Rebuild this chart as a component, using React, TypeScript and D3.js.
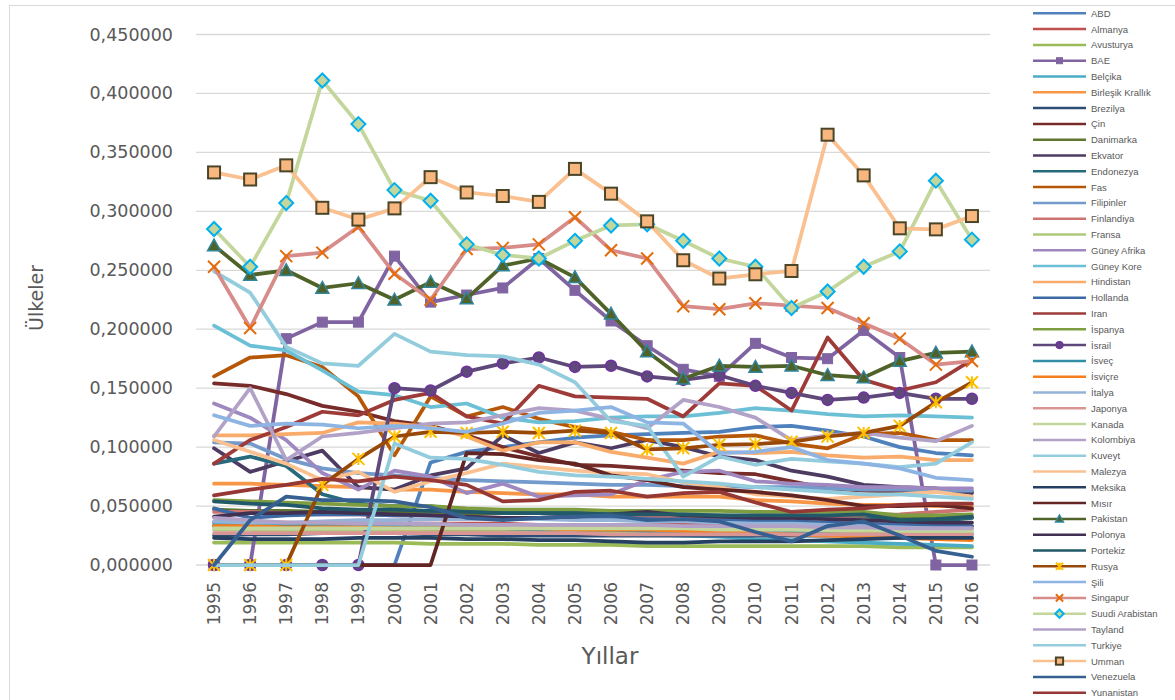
import React from "react";
import * as d3 from "d3";

const years = ["1995","1996","1997","1998","1999","2000","2001","2002","2003","2004","2005","2006","2007","2008","2009","2010","2011","2012","2013","2014","2015","2016"];

// values, one array per country
const abd = [0,0,0,0,0,0,0.087,0.096,0.100,0.104,0.108,0.110,0.111,0.112,0.113,0.117,0.118,0.114,0.109,0.100,0.095,0.093];
const almanya = [0.036,0.036,0.036,0.035,0.035,0.035,0.035,0.035,0.035,0.034,0.034,0.034,0.034,0.034,0.034,0.034,0.034,0.034,0.033,0.033,0.033,0.033];
const avusturya = [0.019,0.019,0.019,0.019,0.019,0.019,0.018,0.018,0.018,0.017,0.017,0.017,0.016,0.016,0.016,0.016,0.016,0.016,0.016,0.015,0.015,0.015];
const bae = [0,0,0.192,0.206,0.206,0.262,0.223,0.229,0.235,0.260,0.233,0.207,0.186,0.166,0.160,0.188,0.176,0.175,0.199,0.176,0,0];
const belcika = [0.034,0.034,0.034,0.033,0.033,0.032,0.032,0.031,0.030,0.029,0.028,0.027,0.026,0.025,0.024,0.022,0.021,0.020,0.019,0.018,0.017,0.016];
const birlesikKrallik = [0.069,0.069,0.068,0.067,0.066,0.064,0.064,0.062,0.061,0.060,0.060,0.058,0.058,0.058,0.058,0.055,0.054,0.052,0.051,0.051,0.050,0.050];
const brezilya = [0.025,0.026,0.026,0.027,0.027,0.027,0.026,0.026,0.025,0.025,0.025,0.025,0.025,0.025,0.025,0.025,0.025,0.025,0.026,0.026,0.026,0.026];
const cin = [0.154,0.152,0.145,0.135,0.130,0.122,0.118,0.110,0.100,0.092,0.085,0.084,0.082,0.080,0.078,0.077,0.071,0.065,0.063,0.062,0.062,0.062];
const danimarka = [0.047,0.046,0.046,0.045,0.045,0.045,0.044,0.044,0.044,0.044,0.043,0.043,0.043,0.042,0.042,0.041,0.041,0.041,0.041,0.040,0.040,0.040];
const ekvator = [0.099,0.079,0.088,0.097,0.066,0.064,0.076,0.082,0.110,0.095,0.104,0.099,0.106,0.100,0.092,0.089,0.080,0.075,0.068,0.066,0.065,0.061];
const endonezya = [0.086,0.092,0.084,0.060,0.052,0.050,0.050,0.046,0.045,0.046,0.045,0.044,0.042,0.042,0.041,0.040,0.040,0.040,0.042,0.036,0.037,0.040];
const fas = [0.160,0.176,0.178,0.168,0.143,0.093,0.143,0.126,0.134,0.124,0.117,0.113,0.106,0.106,0.109,0.110,0.103,0.099,0.111,0.112,0.106,0.106];
const filipinler = [0.104,0.103,0.090,0.082,0.078,0.076,0.074,0.072,0.071,0.070,0.069,0.068,0.068,0.067,0.067,0.066,0.066,0.065,0.064,0.064,0.063,0.063];
const finlandiya = [0.045,0.045,0.044,0.043,0.043,0.042,0.042,0.041,0.040,0.040,0.040,0.040,0.040,0.040,0.040,0.040,0.040,0.041,0.042,0.043,0.045,0.047];
const fransa = [0.030,0.030,0.029,0.029,0.029,0.029,0.028,0.028,0.028,0.028,0.028,0.028,0.028,0.027,0.027,0.027,0.027,0.027,0.027,0.027,0.027,0.027];
const guneyAfrika = [0.137,0.125,0.106,0.078,0.064,0.080,0.075,0.061,0.069,0.058,0.059,0.060,0.072,0.079,0.080,0.071,0.069,0.068,0.066,0.066,0.065,0.065];
const guneyKore = [0.203,0.186,0.182,0.165,0.147,0.144,0.134,0.137,0.125,0.121,0.122,0.125,0.126,0.126,0.129,0.133,0.131,0.128,0.126,0.127,0.126,0.125];
const hindistan = [0.110,0.110,0.111,0.112,0.121,0.120,0.117,0.109,0.097,0.104,0.104,0.096,0.091,0.086,0.096,0.095,0.096,0.093,0.091,0.092,0.089,0.089];
const hollanda = [0.048,0.040,0.042,0.043,0.043,0.042,0.042,0.040,0.040,0.040,0.040,0.040,0.039,0.038,0.038,0.038,0.037,0.036,0.035,0.034,0.034,0.033];
const iran = [0.086,0.106,0.117,0.130,0.127,0.140,0.146,0.126,0.120,0.152,0.143,0.142,0.141,0.126,0.154,0.152,0.131,0.193,0.157,0.148,0.155,0.174];
const ispanya = [0.055,0.054,0.053,0.052,0.051,0.050,0.050,0.048,0.047,0.047,0.047,0.046,0.046,0.046,0.046,0.045,0.045,0.045,0.045,0.042,0.042,0.043];
const israil = [0,0,0,0,0,0.150,0.148,0.164,0.171,0.176,0.168,0.169,0.160,0.157,0.161,0.152,0.146,0.140,0.142,0.146,0.141,0.141];
const isvec = [0.033,0.033,0.033,0.032,0.032,0.032,0.031,0.031,0.031,0.030,0.030,0.030,0.029,0.029,0.028,0.027,0.027,0.026,0.025,0.024,0.023,0.023];
const isvicre = [0.033,0.033,0.032,0.032,0.032,0.031,0.031,0.031,0.031,0.031,0.030,0.030,0.030,0.029,0.028,0.027,0.026,0.025,0.024,0.023,0.022,0.021];
const italya = [0.037,0.036,0.036,0.037,0.038,0.038,0.039,0.039,0.039,0.039,0.038,0.038,0.037,0.037,0.036,0.035,0.035,0.034,0.033,0.032,0.031,0.031];
const japonya = [0.027,0.027,0.027,0.027,0.027,0.027,0.027,0.027,0.027,0.027,0.027,0.026,0.026,0.026,0.026,0.026,0.026,0.026,0.026,0.026,0.026,0.026];
const kanada = [0.031,0.031,0.031,0.031,0.031,0.031,0.031,0.031,0.031,0.031,0.031,0.031,0.031,0.031,0.030,0.030,0.030,0.030,0.030,0.029,0.029,0.029];
const kolombiya = [0.109,0.150,0.089,0.109,0.112,0.116,0.120,0.121,0.127,0.133,0.131,0.124,0.116,0.140,0.134,0.125,0.106,0.110,0.112,0.108,0.105,0.118];
const kuveyt = [0.249,0.231,0.185,0.171,0.169,0.196,0.181,0.178,0.177,0.170,0.155,0.122,0.118,0.075,0.092,0.085,0.090,0.088,0.086,0.083,0.086,0.104];
const malezya = [0.106,0.096,0.086,0.072,0.079,0.062,0.071,0.078,0.086,0.083,0.080,0.078,0.077,0.070,0.066,0.060,0.058,0.056,0.058,0.060,0.062,0.058];
const meksika = [0.023,0.022,0.022,0.022,0.023,0.023,0.023,0.022,0.022,0.021,0.021,0.020,0.019,0.019,0.020,0.020,0.020,0.021,0.022,0.023,0.023,0.023];
const misir = [0,0,0,0,0,0,0,0.095,0.094,0.089,0.086,0.076,0.072,0.066,0.064,0.062,0.059,0.055,0.050,0.050,0.051,0.048];
const pakistan = [0.271,0.246,0.250,0.235,0.239,0.225,0.240,0.226,0.254,0.260,0.244,0.213,0.181,0.158,0.169,0.168,0.169,0.161,0.159,0.173,0.180,0.181];
const polonya = [0.041,0.044,0.044,0.045,0.044,0.043,0.042,0.041,0.040,0.040,0.041,0.043,0.045,0.042,0.041,0.040,0.040,0.039,0.038,0.037,0.036,0.036];
const portekiz = [0.054,0.052,0.051,0.048,0.047,0.047,0.046,0.045,0.044,0.044,0.044,0.043,0.043,0.043,0.042,0.042,0.042,0.042,0.043,0.038,0.039,0.041];
const rusya = [0,0,0,0.068,0.090,0.109,0.113,0.112,0.113,0.112,0.114,0.112,0.098,0.099,0.102,0.1025,0.1045,0.109,0.112,0.118,0.138,0.155];
const sili = [0.127,0.118,0.120,0.119,0.116,0.118,0.116,0.113,0.120,0.129,0.131,0.134,0.121,0.120,0.095,0.096,0.100,0.089,0.086,0.082,0.074,0.072];
const singapur = [0.253,0.201,0.262,0.265,0.287,0.247,0.225,0.268,0.269,0.272,0.295,0.267,0.260,0.2195,0.217,0.222,0.220,0.218,0.205,0.192,0.170,0.173];
const suudiArabistan = [0.285,0.253,0.307,0.411,0.374,0.318,0.309,0.272,0.263,0.260,0.275,0.288,0.289,0.275,0.260,0.253,0.218,0.232,0.253,0.266,0.326,0.276];
const tayland = [0.040,0.038,0.036,0.036,0.035,0.035,0.035,0.034,0.034,0.034,0.034,0.034,0.034,0.033,0.033,0.033,0.033,0.032,0.032,0.031,0.031,0.031];
const turkiye = [0,0,0,0,0,0.103,0.091,0.090,0.085,0.079,0.076,0.075,0.073,0.071,0.069,0.066,0.064,0.062,0.060,0.060,0.058,0.056];
const umman = [0.333,0.327,0.339,0.303,0.293,0.3025,0.329,0.316,0.313,0.308,0.336,0.315,0.2915,0.2585,0.243,0.2466,0.2494,0.365,0.3305,0.2856,0.2847,0.296];
const venezuela = [0,0.038,0.058,0.055,0.055,0.054,0.049,0.040,0.038,0.040,0.041,0.042,0.038,0.039,0.037,0.028,0.020,0.033,0.037,0.025,0.012,0.007];
const yunanistan = [0.059,0.064,0.068,0.073,0.071,0.075,0.072,0.068,0.054,0.055,0.062,0.063,0.058,0.061,0.062,0.053,0.045,0.047,0.048,0.051,0.052,0.052];

const countryNames = ["ABD","Almanya","Avusturya","BAE","Belçika","Birleşik Krallık","Brezilya","Çin","Danimarka","Ekvator","Endonezya","Fas","Filipinler","Finlandiya","Fransa","Güney Afrika","Güney Kore","Hindistan","Hollanda","Iran","İspanya","İsrail","İsveç","İsviçre","İtalya","Japonya","Kanada","Kolombiya","Kuveyt","Malezya","Meksika","Mısır","Pakistan","Polonya","Portekiz","Rusya","Şili","Singapur","Suudi Arabistan","Tayland","Turkiye","Umman","Venezuela","Yunanistan"];
const countryValues = [abd,almanya,avusturya,bae,belcika,birlesikKrallik,brezilya,cin,danimarka,ekvator,endonezya,fas,filipinler,finlandiya,fransa,guneyAfrika,guneyKore,hindistan,hollanda,iran,ispanya,israil,isvec,isvicre,italya,japonya,kanada,kolombiya,kuveyt,malezya,meksika,misir,pakistan,polonya,portekiz,rusya,sili,singapur,suudiArabistan,tayland,turkiye,umman,venezuela,yunanistan];

const countryColors = ["#4F81BD","#C0504D","#9BBB59","#8064A2","#4BACC6","#F79646","#2C4D75","#772C2A","#5F7530","#4D3B62","#276A7C","#B65708","#729ACA","#CD7371","#AFC97A","#9F88C0","#6CC0D6","#F9AB6B","#3C6AA5","#9E3B38","#7E9D40","#5F497A","#338EA8","#F57F1E","#95B3D7","#D99694","#C3D69B","#B3A2C7","#93CDDD","#FAC090","#254061","#632523","#4F6228","#403152","#215968","#984807","#8EB4E3","#D88C8A","#C3D69B","#B3A2C7","#93CDDD","#FAC090","#376092","#953735"];

const markerOf: Record<string, string> = {
  BAE: "square",
  "İsrail": "circle",
  Pakistan: "triangle",
  Rusya: "star",
  Singapur: "cross",
  "Suudi Arabistan": "diamond",
  Umman: "box",
};

const plot = { left: 196, right: 990, top: 34.5, bottom: 565 };
const gray = "#595959";
const font = "'DejaVu Sans', sans-serif";

function Marker({ kind, x, y, k = 1 }: { kind: string; x: number; y: number; k?: number }) {
  if (kind === "square") {
    const s = 10 * k;
    return <rect x={x - s / 2} y={y - s / 2} width={s} height={s} fill="#8064A2" stroke="#8064A2" />;
  }
  if (kind === "circle") {
    return <circle cx={x} cy={y} r={5.5 * k} fill="#5F497A" stroke="#7030A0" strokeWidth={1.5} />;
  }
  if (kind === "triangle") {
    const s = 6.5 * k;
    return <path d={`M${x},${y - s}L${x + s},${y + s * 0.8}L${x - s},${y + s * 0.8}Z`} fill="#4F6228" stroke="#31859C" strokeWidth={1.5} />;
  }
  if (kind === "star") {
    const s = 6 * k;
    return (
      <path d={`M${x - s},${y - s}L${x + s},${y + s}M${x - s},${y + s}L${x + s},${y - s}M${x},${y - s}L${x},${y + s}`} stroke="#FFC000" strokeWidth={2} fill="none" />
    );
  }
  if (kind === "cross") {
    const s = 6 * k;
    return <path d={`M${x - s},${y - s}L${x + s},${y + s}M${x - s},${y + s}L${x + s},${y - s}`} stroke="#E46C0A" strokeWidth={2} fill="none" />;
  }
  if (kind === "diamond") {
    const s = 7 * k;
    return <path d={`M${x},${y - s}L${x + s},${y}L${x},${y + s}L${x - s},${y}Z`} fill="#C3D69B" stroke="#00B0F0" strokeWidth={2} />;
  }
  if (kind === "box") {
    const s = 12 * k;
    return <rect x={x - s / 2} y={y - s / 2} width={s} height={s} fill="#F9B780" stroke="#4A4527" strokeWidth={2} />;
  }
  return null;
}

export default function App() {
  const x = d3.scaleBand().domain(years).range([plot.left, plot.right]);
  const y = d3.scaleLinear().domain([0, 0.45]).range([plot.bottom, plot.top]);
  const cx = (i: number) => (x(years[i]) as number) + x.bandwidth() / 2;
  const line = d3.line<number>().x((_, i) => cx(i)).y((d) => y(d));
  const yTicks = d3.range(0, 10).map((i) => i * 0.05);
  const fmt = (v: number) => d3.format(".6f")(v).replace(".", ",");

  return (
    <svg width={1175} height={700} style={{ position: "absolute", left: 0, top: 0, background: "#fff" }}>
      <rect x={9.5} y={5.5} width={1300} height={900} fill="#fff" stroke="#D9D9D9" />
      {yTicks.map((t) => (
        <g key={t}>
          <line x1={plot.left} x2={plot.right} y1={y(t)} y2={y(t)} stroke="#D9D9D9" strokeWidth={1.3} />
          <text x={173} y={y(t)} textAnchor="end" dominantBaseline="central" fontFamily={font} fontSize={17.5} fill={gray}>
            {fmt(t)}
          </text>
        </g>
      ))}
      {years.map((yr, i) => (
        <text key={yr} transform={`translate(${cx(i)},582) rotate(-90)`} textAnchor="end" dominantBaseline="central" fontFamily={font} fontSize={17} fill={gray}>
          {yr}
        </text>
      ))}
      <text transform="translate(36,298) rotate(-90)" textAnchor="middle" dominantBaseline="central" fontFamily={font} fontSize={19} fill={gray}>
        Ülkeler
      </text>
      <text x={610} y={656} textAnchor="middle" dominantBaseline="central" fontFamily={font} fontSize={23} fill={gray}>
        Yıllar
      </text>

      {countryNames.map((name, si) => {
        const vals = countryValues[si];
        const kind = markerOf[name];
        return (
          <g key={name}>
            <path d={line(vals) || ""} fill="none" stroke={countryColors[si]} strokeWidth={3.75} strokeLinejoin="round" strokeLinecap="round" />
            {kind && vals.map((v, i) => <Marker key={i} kind={kind} x={cx(i)} y={y(v)} />)}
          </g>
        );
      })}

      {countryNames.map((name, si) => {
        const ly = 13.3 + si * 15.8;
        const kind = markerOf[name];
        return (
          <g key={"lg" + name}>
            <line x1={1033} x2={1086} y1={ly} y2={ly} stroke={countryColors[si]} strokeWidth={2.5} />
            {kind && <Marker kind={kind} x={1059.5} y={ly} k={0.6} />}
            <text x={1091} y={ly} dominantBaseline="central" fontFamily="'Liberation Sans', Arial, sans-serif" fontSize={9.5} fill={gray}>
              {name}
            </text>
          </g>
        );
      })}
    </svg>
  );
}
